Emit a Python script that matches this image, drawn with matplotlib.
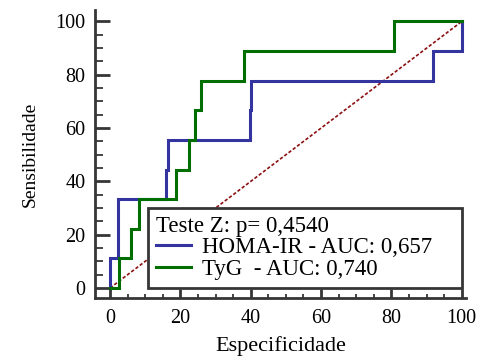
import matplotlib
matplotlib.use("Agg")
import matplotlib.pyplot as plt
from matplotlib.lines import Line2D
from matplotlib.ticker import MultipleLocator

# ROC curve corners (100 - specificity, sensitivity), in %
homa_fpr = [0, 0, 2.4, 2.4, 15.8, 15.8, 16.5, 16.5, 39.7, 39.7, 40.2, 40.2, 91.9, 91.9, 100, 100]
homa_tpr = [0, 11.1, 11.1, 33.3, 33.3, 44.4, 44.4, 55.6, 55.6, 66.7, 66.7, 77.8, 77.8, 88.9, 88.9, 100]

tyg_fpr = [0, 2.6, 2.6, 5.9, 5.9, 8.2, 8.2, 18.8, 18.8, 22.5, 22.5, 24.2, 24.2, 25.9, 25.9,
           38.1, 38.1, 80.8, 80.8, 100]
tyg_tpr = [0, 0, 11.1, 11.1, 22.2, 22.2, 33.3, 33.3, 44.4, 44.4, 55.6, 55.6, 66.7, 66.7, 77.8,
           77.8, 88.9, 88.9, 100, 100]

ref_line = [0, 100]

homa_label = "HOMA-IR - AUC: 0,657"
tyg_label = "TyG  - AUC: 0,740"
test_title = "Teste Z: p= 0,4540"

plt.rcParams["font.family"] = ["Liberation Serif", "DejaVu Serif"]

fig = plt.figure(figsize=(4.81, 3.56), dpi=100)
ax = fig.add_axes([0.1975, 0.1629, 0.7713, 0.809])

spine_col = "#363636"
ax.plot(ref_line, ref_line, color="#8b1010", lw=1.2, ls=(0, (2.0, 1.2)), zorder=2)
ax.plot(homa_fpr, homa_tpr, color="#3434a0", lw=2.2, zorder=3, solid_joinstyle="miter")
ax.plot(tyg_fpr, tyg_tpr, color="#006e00", lw=2.2, zorder=4, solid_joinstyle="miter")

ax.set_xlim(-4.27, 101.2)
ax.set_ylim(-3.75, 104.3)

for side in ["top", "right"]:
    ax.spines[side].set_visible(False)
for side in ["left", "bottom"]:
    ax.spines[side].set_color(spine_col)
    ax.spines[side].set_linewidth(2.0)

ax.xaxis.set_major_locator(MultipleLocator(20))
ax.xaxis.set_minor_locator(MultipleLocator(5))
ax.yaxis.set_major_locator(MultipleLocator(20))
ax.yaxis.set_minor_locator(MultipleLocator(5))

ax.tick_params(axis="y", which="major", direction="in", length=10.8, width=2.0,
               color=spine_col, labelsize=14.5, pad=7)
ax.tick_params(axis="y", which="minor", direction="in", length=6, width=1.3, color=spine_col)
ax.tick_params(axis="x", which="major", direction="in", length=6.7, width=2.0,
               color=spine_col, labelsize=14.5, pad=8)
ax.tick_params(axis="x", which="minor", direction="in", length=3.2, width=1.3, color=spine_col)

ax.set_xlabel("Especificidade", fontsize=16, labelpad=6)
ax.set_ylabel("Sensibilidade", fontsize=14, labelpad=12)

handles = [Line2D([], [], color="#3434a0", lw=2.2),
           Line2D([], [], color="#006e00", lw=2.2)]
leg = ax.legend(handles, [homa_label, tyg_label], title=test_title,
                loc="lower left", bbox_to_anchor=(10.9, 0, 89.1, 30),
                bbox_transform=ax.transData, mode="expand", borderaxespad=0,
                fontsize=16.5, title_fontsize=16.5, alignment="left",
                handlelength=1.55, handletextpad=0.45, labelspacing=0.04,
                borderpad=0.33, fancybox=False, framealpha=1)
leg.get_frame().set_edgecolor(spine_col)
leg.get_frame().set_linewidth(2.0)
leg.set_zorder(5)

fig.savefig("out.png", dpi=100)
